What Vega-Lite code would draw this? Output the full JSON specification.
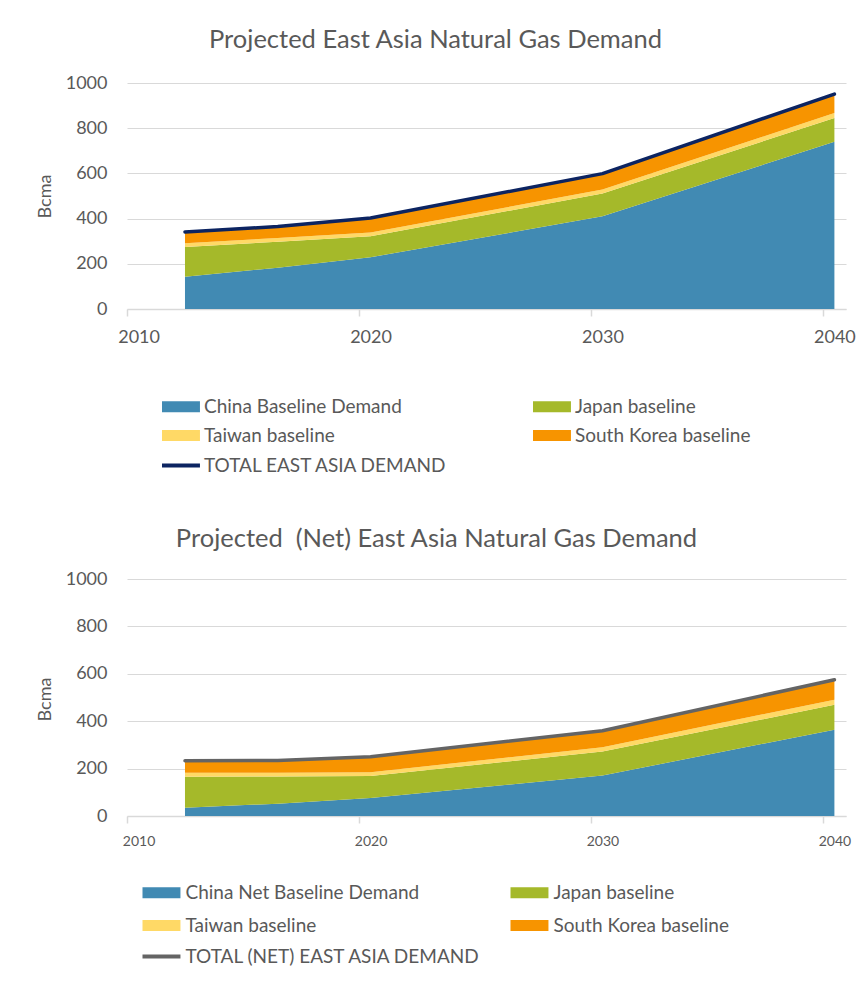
{
  "$schema": "https://vega.github.io/schema/vega-lite/v6.json",
  "padding": {"left": 36, "top": 27, "right": 0, "bottom": 0},
  "background": "#ffffff",
  "config": {
    "view": {"stroke": null},
    "font": "Lato",
    "axis": {
      "labelFont": "Lato",
      "labelColor": "#595959",
      "titleFont": "Lato",
      "titleColor": "#595959",
      "titleFontWeight": "normal",
      "gridColor": "#D9D9D9",
      "domainColor": "#D9D9D9",
      "tickColor": "#D9D9D9"
    },
    "legend": {
      "labelFont": "Lato",
      "labelColor": "#595959",
      "labelFontSize": 19,
      "labelLimit": 400,
      "padding": 0
    },
    "title": {"font": "Lato", "color": "#595959", "fontWeight": "normal"}
  },
  "datasets": {
    "gross": [
      {"year": 2012, "series": "China Baseline Demand", "bcma": 143},
      {"year": 2016, "series": "China Baseline Demand", "bcma": 183},
      {"year": 2020, "series": "China Baseline Demand", "bcma": 229},
      {"year": 2030, "series": "China Baseline Demand", "bcma": 410},
      {"year": 2040, "series": "China Baseline Demand", "bcma": 740},
      {"year": 2012, "series": "Japan baseline", "bcma": 131},
      {"year": 2016, "series": "Japan baseline", "bcma": 115},
      {"year": 2020, "series": "Japan baseline", "bcma": 93},
      {"year": 2030, "series": "Japan baseline", "bcma": 101},
      {"year": 2040, "series": "Japan baseline", "bcma": 105},
      {"year": 2012, "series": "Taiwan baseline", "bcma": 17},
      {"year": 2016, "series": "Taiwan baseline", "bcma": 16},
      {"year": 2020, "series": "Taiwan baseline", "bcma": 16},
      {"year": 2030, "series": "Taiwan baseline", "bcma": 18},
      {"year": 2040, "series": "Taiwan baseline", "bcma": 22},
      {"year": 2012, "series": "South Korea baseline", "bcma": 50},
      {"year": 2016, "series": "South Korea baseline", "bcma": 51},
      {"year": 2020, "series": "South Korea baseline", "bcma": 65},
      {"year": 2030, "series": "South Korea baseline", "bcma": 70},
      {"year": 2040, "series": "South Korea baseline", "bcma": 84}
    ],
    "grossTotal": [
      {"year": 2012, "series": "TOTAL EAST ASIA DEMAND", "bcma": 341},
      {"year": 2016, "series": "TOTAL EAST ASIA DEMAND", "bcma": 365},
      {"year": 2020, "series": "TOTAL EAST ASIA DEMAND", "bcma": 403},
      {"year": 2030, "series": "TOTAL EAST ASIA DEMAND", "bcma": 599},
      {"year": 2040, "series": "TOTAL EAST ASIA DEMAND", "bcma": 951}
    ],
    "net": [
      {"year": 2012, "series": "China Net Baseline Demand", "bcma": 35},
      {"year": 2016, "series": "China Net Baseline Demand", "bcma": 52},
      {"year": 2020, "series": "China Net Baseline Demand", "bcma": 76},
      {"year": 2030, "series": "China Net Baseline Demand", "bcma": 171},
      {"year": 2040, "series": "China Net Baseline Demand", "bcma": 364},
      {"year": 2012, "series": "Japan baseline", "bcma": 131},
      {"year": 2016, "series": "Japan baseline", "bcma": 115},
      {"year": 2020, "series": "Japan baseline", "bcma": 93},
      {"year": 2030, "series": "Japan baseline", "bcma": 101},
      {"year": 2040, "series": "Japan baseline", "bcma": 105},
      {"year": 2012, "series": "Taiwan baseline", "bcma": 17},
      {"year": 2016, "series": "Taiwan baseline", "bcma": 16},
      {"year": 2020, "series": "Taiwan baseline", "bcma": 16},
      {"year": 2030, "series": "Taiwan baseline", "bcma": 18},
      {"year": 2040, "series": "Taiwan baseline", "bcma": 22},
      {"year": 2012, "series": "South Korea baseline", "bcma": 50},
      {"year": 2016, "series": "South Korea baseline", "bcma": 51},
      {"year": 2020, "series": "South Korea baseline", "bcma": 65},
      {"year": 2030, "series": "South Korea baseline", "bcma": 70},
      {"year": 2040, "series": "South Korea baseline", "bcma": 84}
    ],
    "netTotal": [
      {"year": 2012, "series": "TOTAL (NET) EAST ASIA DEMAND", "bcma": 233},
      {"year": 2016, "series": "TOTAL (NET) EAST ASIA DEMAND", "bcma": 234},
      {"year": 2020, "series": "TOTAL (NET) EAST ASIA DEMAND", "bcma": 250},
      {"year": 2030, "series": "TOTAL (NET) EAST ASIA DEMAND", "bcma": 360},
      {"year": 2040, "series": "TOTAL (NET) EAST ASIA DEMAND", "bcma": 575}
    ]
  },
  "spacing": 50,
  "resolve": {
    "scale": {"fill": "independent", "stroke": "independent"},
    "legend": {"fill": "independent", "stroke": "independent"}
  },
  "vconcat": [
    {
      "width": 719,
      "height": 226,
      "title": {
        "text": "Projected East Asia Natural Gas Demand",
        "fontSize": 25.5,
        "anchor": "middle",
        "dx": -51,
        "offset": 21
      },
      "layer": [
        {
          "data": {"name": "gross"},
          "transform": [
            {"calculate": "indexof(['China Baseline Demand', 'Japan baseline', 'Taiwan baseline', 'South Korea baseline'], datum.series)", "as": "stackRank"}
          ],
          "mark": {"type": "area"},
          "encoding": {
            "x": {
              "field": "year",
              "type": "quantitative",
              "scale": {"domain": [2009.5, 2040.5], "nice": false, "zero": false},
              "axis": {
                "title": null,
                "values": [2010, 2020, 2030, 2040],
                "format": "d",
                "grid": false,
                "domainWidth": 1.5,
                "tickSize": 7,
                "tickWidth": 1.5,
                "tickOffset": -11.6,
                "labelOffset": 11.6,
                "labelFontSize": 18,
                "labelPadding": 12,
                "labelFlush": false
              }
            },
            "y": {
              "field": "bcma",
              "type": "quantitative",
              "stack": "zero",
              "scale": {"domain": [0, 1000], "nice": false},
              "axis": {
                "title": "Bcma",
                "titleFontSize": 18,
                "titleX": -82,
                "titleY": 113,
                "titleAngle": -90,
                "titleAlign": "center",
                "titleBaseline": "middle",
                "values": [0, 200, 400, 600, 800, 1000],
                "format": "d",
                "domain": false,
                "ticks": false,
                "labelFontSize": 18,
                "labelPadding": 20,
                "gridWidth": 1
              }
            },
            "order": {"field": "stackRank", "type": "quantitative"},
            "fill": {
              "field": "series",
              "type": "nominal",
              "scale": {
                "domain": ["China Baseline Demand", "Japan baseline", "Taiwan baseline", "South Korea baseline"],
                "range": ["#418AB3", "#A5B92A", "#FFD966", "#F79400"]
              },
              "legend": {
                "title": null,
                "orient": "none",
                "direction": "horizontal",
                "legendX": 31,
                "legendY": 314,
                "columns": 2,
                "columnPadding": 127,
                "rowPadding": 9,
                "symbolType": "M-1,-1H5.9V1H-1Z",
                "symbolSize": 121,
                "symbolStrokeWidth": 0,
                "labelOffset": 27
              }
            }
          }
        },
        {
          "data": {"name": "grossTotal"},
          "mark": {"type": "line", "strokeWidth": 3.5, "strokeCap": "round", "strokeJoin": "round"},
          "encoding": {
            "x": {"field": "year", "type": "quantitative"},
            "y": {"field": "bcma", "type": "quantitative"},
            "stroke": {
              "field": "series",
              "type": "nominal",
              "scale": {"domain": ["TOTAL EAST ASIA DEMAND"], "range": ["#0C2461"]},
              "legend": {
                "title": null,
                "orient": "none",
                "legendX": 31,
                "legendY": 373,
                "symbolType": "M-1,0H5.9",
                "symbolSize": 121,
                "symbolStrokeWidth": 4,
                "labelOffset": 27
              }
            }
          }
        }
      ]
    },
    {
      "width": 719,
      "height": 237,
      "title": {
        "text": "Projected \u00a0(Net) East Asia Natural Gas Demand",
        "fontSize": 25.5,
        "anchor": "middle",
        "dx": -50,
        "offset": 18
      },
      "layer": [
        {
          "data": {"name": "net"},
          "transform": [
            {"calculate": "indexof(['China Net Baseline Demand', 'Japan baseline', 'Taiwan baseline', 'South Korea baseline'], datum.series)", "as": "stackRank"}
          ],
          "mark": {"type": "area"},
          "encoding": {
            "x": {
              "field": "year",
              "type": "quantitative",
              "scale": {"domain": [2009.5, 2040.5], "nice": false, "zero": false},
              "axis": {
                "title": null,
                "values": [2010, 2020, 2030, 2040],
                "format": "d",
                "grid": false,
                "domainWidth": 1.5,
                "tickSize": 7,
                "tickWidth": 1.5,
                "tickOffset": -11.6,
                "labelOffset": 11.6,
                "labelFontSize": 14,
                "labelPadding": 11,
                "labelFlush": false
              }
            },
            "y": {
              "field": "bcma",
              "type": "quantitative",
              "stack": "zero",
              "scale": {"domain": [0, 1000], "nice": false},
              "axis": {
                "title": "Bcma",
                "titleFontSize": 18,
                "titleX": -82,
                "titleY": 120,
                "titleAngle": -90,
                "titleAlign": "center",
                "titleBaseline": "middle",
                "values": [0, 200, 400, 600, 800, 1000],
                "format": "d",
                "domain": false,
                "ticks": false,
                "labelFontSize": 18,
                "labelPadding": 20,
                "gridWidth": 1
              }
            },
            "order": {"field": "stackRank", "type": "quantitative"},
            "fill": {
              "field": "series",
              "type": "nominal",
              "scale": {
                "domain": ["China Net Baseline Demand", "Japan baseline", "Taiwan baseline", "South Korea baseline"],
                "range": ["#418AB3", "#A5B92A", "#FFD966", "#F79400"]
              },
              "legend": {
                "title": null,
                "orient": "none",
                "direction": "horizontal",
                "legendX": 11.5,
                "legendY": 304,
                "columns": 2,
                "columnPadding": 87,
                "rowPadding": 13,
                "symbolType": "M-1,-1H5.9V1H-1Z",
                "symbolSize": 121,
                "symbolStrokeWidth": 0,
                "labelOffset": 28
              }
            }
          }
        },
        {
          "data": {"name": "netTotal"},
          "mark": {"type": "line", "strokeWidth": 3.5, "strokeCap": "round", "strokeJoin": "round"},
          "encoding": {
            "x": {"field": "year", "type": "quantitative"},
            "y": {"field": "bcma", "type": "quantitative"},
            "stroke": {
              "field": "series",
              "type": "nominal",
              "scale": {"domain": ["TOTAL (NET) EAST ASIA DEMAND"], "range": ["#646464"]},
              "legend": {
                "title": null,
                "orient": "none",
                "legendX": 11.5,
                "legendY": 368,
                "symbolType": "M-1,0H5.9",
                "symbolSize": 121,
                "symbolStrokeWidth": 4,
                "labelOffset": 28
              }
            }
          }
        }
      ]
    }
  ]
}
